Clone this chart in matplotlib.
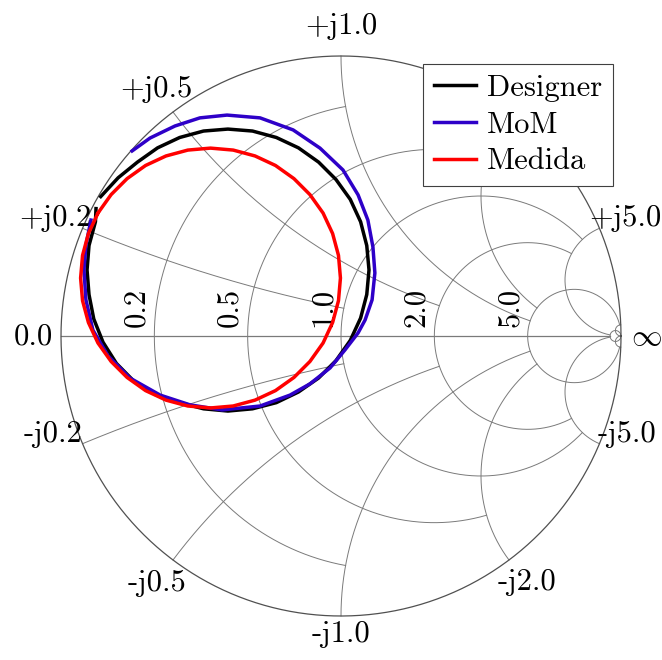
import numpy as np
import matplotlib
matplotlib.use("Agg")
import matplotlib.pyplot as plt

plt.rcParams["font.family"] = "cmr10"
plt.rcParams["mathtext.fontset"] = "cm"
plt.rcParams["axes.unicode_minus"] = False

# ── reflection coefficient samples (Re, Im) ─────────────
designer_re = [-0.858, -0.796, -0.727, -0.655, -0.576, -0.491, -0.404, -0.316, -0.231, -0.152,
               -0.080, -0.018, 0.033, 0.070, 0.092, 0.100, 0.092, 0.070, 0.033, -0.018,
               -0.080, -0.152, -0.231, -0.316, -0.404, -0.491, -0.576, -0.661, -0.738, -0.802,
               -0.850, -0.883, -0.900, -0.907, -0.900, -0.877, -0.875]
designer_im = [0.498, 0.565, 0.621, 0.672, 0.709, 0.732, 0.739, 0.732, 0.709, 0.672,
               0.621, 0.559, 0.488, 0.408, 0.323, 0.236, 0.148, 0.064, -0.016, -0.088,
               -0.150, -0.200, -0.238, -0.260, -0.268, -0.260, -0.238, -0.210, -0.163, -0.098,
               -0.022, 0.061, 0.148, 0.236, 0.323, 0.408, 0.455]

mom_re = [-0.746, -0.682, -0.593, -0.504, -0.407, -0.289, -0.171, -0.075, 0.007, 0.061,
          0.096, 0.114, 0.121, 0.111, 0.086, 0.061, 0.014, -0.039, -0.111, -0.182,
          -0.289, -0.425, -0.539, -0.646, -0.754, -0.832, -0.886, -0.911, -0.918, -0.911, -0.893]
mom_im = [0.661, 0.707, 0.750, 0.779, 0.789, 0.779, 0.736, 0.671, 0.593, 0.504,
          0.414, 0.318, 0.225, 0.129, 0.057, 0.011, -0.050, -0.114, -0.171, -0.211,
          -0.250, -0.264, -0.246, -0.211, -0.150, -0.071, 0.021, 0.129, 0.236, 0.325, 0.414]

medida_re = [-0.868, -0.821, -0.764, -0.698, -0.625, -0.547, -0.466, -0.385, -0.307, -0.234,
             -0.168, -0.111, -0.064, -0.030, -0.009, -0.002, -0.009, -0.030, -0.064, -0.111,
             -0.168, -0.234, -0.307, -0.385, -0.466, -0.547, -0.625, -0.698, -0.764, -0.821,
             -0.868, -0.902, -0.923, -0.930, -0.923, -0.902, -0.868]
medida_im = [0.439, 0.505, 0.562, 0.609, 0.643, 0.664, 0.671, 0.664, 0.643, 0.609,
             0.562, 0.505, 0.439, 0.366, 0.288, 0.207, 0.126, 0.048, -0.025, -0.091,
             -0.148, -0.195, -0.229, -0.250, -0.257, -0.250, -0.229, -0.195, -0.148, -0.091,
             -0.025, 0.048, 0.126, 0.207, 0.288, 0.366, 0.439]

# smith grid: value and where each line stops
r_grid = [0.2, 0.5, 1.0, 2.0, 5.0, 50.0]
r_stop = [1.0, 2.0, 5.0, 5.0, 50.0, np.inf]
x_grid = [0.2, 0.5, 1.0, 2.0, 5.0, 50.0]
x_stop = [1.0, 2.0, 5.0, 5.0, 50.0, np.inf]

r_labels = ["0.2", "0.5", "1.0", "2.0", "5.0"]
x_ticks = [1.0, 0.5, 0.2, 0.0, -0.2, -0.5, -1.0, -2.0, -5.0, 5.0]
x_labels = ["+j1.0", "+j0.5", "+j0.2", "0.0", "-j0.2", "-j0.5", "-j1.0", "-j2.0", "-j5.0", "+j5.0"]
# label centre offset from its rim point, pixels (x right, y up)
x_label_off = [(0, 30), (-17, 23), (-27, 10), (-28, -1), (-30, 9),
               (-16, -23), (0, -18), (18, -22), (28, 9), (26, 10)]

GRID_C = "#7a7a7a"
COLORS = {"designer": "#000000", "mom": "#2e00c8", "medida": "#ff0000"}
LW = 2.5


def gamma(z):
    return (z - 1) / (z + 1)


def r_circle(r, xmax):
    t = np.linspace(-np.arctan(xmax), np.arctan(xmax), 600)
    return gamma(r + 1j * np.tan(t))


def x_arc(x, rmax):
    t = np.linspace(0, np.arctan(rmax), 600)
    return gamma(np.tan(t) + 1j * x)


fig = plt.figure(figsize=(6.62, 6.60), dpi=100)
ax = fig.add_axes([0, 0, 1, 1])
ax.set_xlim(-341 / 280, 321 / 280)
ax.set_ylim(-324 / 280, 336 / 280)
ax.axis("off")

# outer circle and real axis
th = np.linspace(0, 2 * np.pi, 800)
ax.plot(np.cos(th), np.sin(th), color="#505050", lw=0.9, zorder=2)
ax.plot([-1, gamma(50.0)], [0, 0], color=GRID_C, lw=0.9, zorder=1)

for r, s in zip(r_grid, r_stop):
    g = r_circle(r, s)
    ax.plot(g.real, g.imag, color=GRID_C, lw=0.7, zorder=1)
for x, s in zip(x_grid, x_stop):
    for sgn in (1, -1):
        g = x_arc(sgn * x, s)
        ax.plot(g.real, g.imag, color=GRID_C, lw=0.7, zorder=1)

# resistance labels, rotated, just left of each circle on the real axis
for r, lab in zip(r_grid, r_labels):
    ax.annotate(lab, xy=((r - 1) / (r + 1), 0), xytext=(-4, 9), textcoords="offset pixels",
                rotation=90, ha="right", va="bottom", fontsize=22)

# reactance labels round the rim
for x, lab, off in zip(x_ticks, x_labels, x_label_off):
    g = gamma(1j * x)
    ax.annotate(lab, xy=(g.real, g.imag), xytext=off, textcoords="offset pixels",
                ha="center", va="center", fontsize=22)
ax.annotate(r"$\infty$", xy=(1, 0), xytext=(25, -1), textcoords="offset pixels",
            ha="center", va="center", fontsize=22)

# data curves
ax.plot(designer_re, designer_im, color=COLORS["designer"], lw=LW, label="Designer",
        solid_joinstyle="round", zorder=3)
ax.plot(mom_re, mom_im, color=COLORS["mom"], lw=LW, label="MoM",
        solid_joinstyle="round", zorder=3)
ax.plot(medida_re, medida_im, color=COLORS["medida"], lw=LW, label="Medida",
        solid_joinstyle="round", zorder=3)

leg = ax.legend(loc="upper right", bbox_to_anchor=(613 / 662, 1 - 64 / 660),
                bbox_transform=fig.transFigure, fontsize=22, frameon=True, fancybox=False,
                framealpha=1, edgecolor="#404040", borderpad=0.35, labelspacing=0.3,
                handlelength=1.4, handletextpad=0.35, borderaxespad=0)
leg.get_frame().set_linewidth(0.8)
leg.set_zorder(5)

fig.savefig("out.png", dpi=100)
